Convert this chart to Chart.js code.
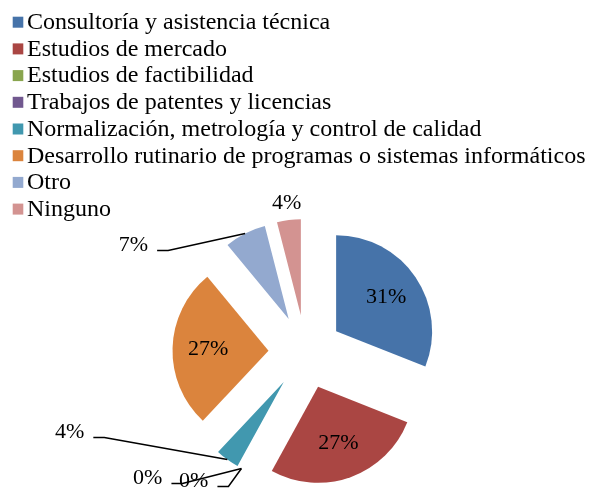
<!DOCTYPE html>
<html>
<head>
<meta charset="utf-8">
<script src="https://cdn.jsdelivr.net/npm/chart.js@4/dist/chart.umd.min.js"></script>
<style>
  html, body { margin: 0; padding: 0; background: #fff; }
  canvas { display: block; }
</style>
</head>
<body>
<canvas id="pie" width="590" height="491"></canvas>
<script>
const categories = [
  "Consultoría y asistencia técnica",
  "Estudios de mercado",
  "Estudios de factibilidad",
  "Trabajos de patentes y licencias",
  "Normalización, metrología y control de calidad",
  "Desarrollo rutinario de programas o sistemas informáticos",
  "Otro",
  "Ninguno"
];
const percents = [31, 27, 0, 0, 4, 27, 7, 4];
const sliceColors = ["#4673A9", "#AA4643", "#89A54E", "#71588F", "#4198AF", "#DB843D", "#93A9CF", "#D39391"];

// how each percent label is placed: inside the slice, above it, or at the end of a leader line
const labelPlacement = ["inside", "inside", "leader", "leader", "leader", "inside", "leader", "outside"];
// leader line start, relative to the middle of the slice's outer edge
const leaderOffsets = [null, null, [-70, 15], [-24, 18], [-134, -22], null, [-88, 17], null];

const FONT = "'Liberation Serif', 'Times New Roman', serif";
const RADIUS = 96;
const EXPLODE = 37;

// pull every slice away from the centre along its bisector
const explodePlugin = {
  id: 'explode',
  afterDatasetUpdate(chart, args) {
    args.meta.data.forEach(arc => {
      const mid = (arc.startAngle + arc.endAngle) / 2;
      arc.x += Math.cos(mid) * EXPLODE;
      arc.y += Math.sin(mid) * EXPLODE;
    });
  }
};

const labelPlugin = {
  id: 'pctLabels',
  afterDatasetsDraw(chart) {
    const ctx = chart.ctx;
    const meta = chart.getDatasetMeta(0);
    ctx.save();
    ctx.font = "22px " + FONT;
    ctx.fillStyle = "#000";
    ctx.strokeStyle = "#000";
    ctx.lineWidth = 1.5;
    meta.data.forEach((arc, i) => {
      const mid = (arc.startAngle + arc.endAngle) / 2;
      const r = arc.outerRadius;
      const text = percents[i] + "%";
      const mode = labelPlacement[i];
      if (mode === "inside") {
        ctx.textAlign = "center";
        ctx.textBaseline = "middle";
        ctx.fillText(text, arc.x + Math.cos(mid) * r * 0.63, arc.y + Math.sin(mid) * r * 0.63);
      } else if (mode === "outside") {
        ctx.textAlign = "center";
        ctx.textBaseline = "middle";
        ctx.fillText(text, arc.x + Math.cos(mid) * (r + 17), arc.y + Math.sin(mid) * (r + 17));
      } else {
        const ex = arc.x + Math.cos(mid) * r;
        const ey = arc.y + Math.sin(mid) * r;
        const sx = ex + leaderOffsets[i][0];
        const sy = ey + leaderOffsets[i][1];
        ctx.beginPath();
        ctx.moveTo(sx, sy);
        ctx.lineTo(sx + 11, sy);
        ctx.lineTo(ex, ey);
        ctx.stroke();
        ctx.textAlign = "right";
        ctx.textBaseline = "middle";
        ctx.fillText(text, sx - 9, sy - 5);
      }
    });
    ctx.restore();
  }
};

const legendPlugin = {
  id: 'columnLegend',
  afterDraw(chart) {
    const ctx = chart.ctx;
    const colors = chart.data.datasets[0].backgroundColor;
    ctx.save();
    ctx.font = "24px " + FONT;
    ctx.textAlign = "left";
    ctx.textBaseline = "alphabetic";
    chart.data.labels.forEach((label, i) => {
      const baseY = 29 + i * 26.7;
      ctx.fillStyle = colors[i];
      ctx.fillRect(12.7, baseY - 12.3, 10.6, 11);
      ctx.fillStyle = "#000";
      ctx.fillText(label, 27, baseY);
    });
    ctx.restore();
  }
};

new Chart(document.getElementById("pie"), {
  type: "pie",
  data: {
    labels: categories,
    datasets: [{
      data: percents,
      backgroundColor: sliceColors,
      borderWidth: 0,
      radius: RADIUS,
      clip: false
    }]
  },
  options: {
    responsive: false,
    animation: false,
    layout: { padding: { left: 21, right: 0, top: 240, bottom: 27 } },
    plugins: { legend: { display: false }, tooltip: { enabled: false } }
  },
  plugins: [explodePlugin, labelPlugin, legendPlugin]
});
</script>
</body>
</html>
